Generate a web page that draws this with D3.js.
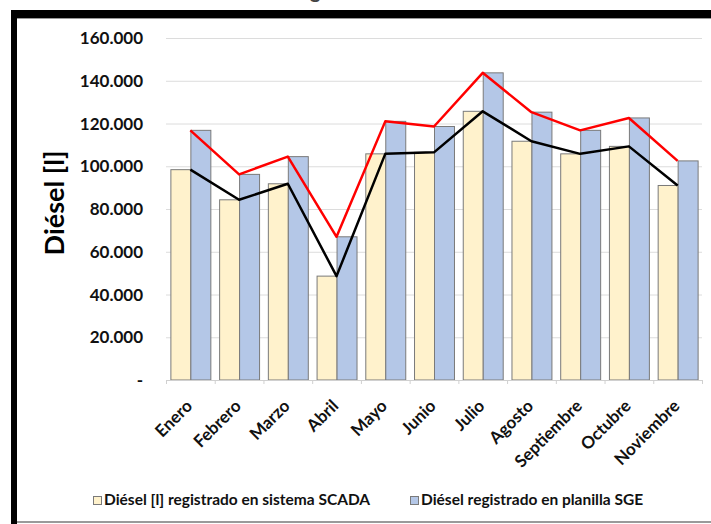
<!DOCTYPE html>
<html>
<head>
<meta charset="utf-8">
<script src="https://cdn.jsdelivr.net/npm/d3@7"></script>
<style>
  body { margin: 0; background: #fff; }
  svg { display: block; font-family: Lato, "Open Sans", sans-serif; }
</style>
</head>
<body>
<div id="chart"></div>
<script>
//  data
var MONTHS = ["Enero", "Febrero", "Marzo", "Abril", "Mayo", "Junio", "Julio", "Agosto", "Septiembre", "Octubre", "Noviembre"];
var SCADA = [98400, 84300, 91800, 48600, 105800, 106500, 125700, 111700, 105800, 109300, 91000];
var SGE = [116800, 96200, 104500, 67000, 121000, 118600, 143700, 125300, 116800, 122600, 102500];
var Y_TICKS = [0, 20000, 40000, 60000, 80000, 100000, 120000, 140000, 160000];
var SERIES = ["Diésel [l] registrado en sistema SCADA", "Diésel registrado en planilla SGE"];

//  draw chart
function draw_chart() {
  const w = 711
  const h = 524
  const margin = ({top: 38, right: 9, bottom: 144, left: 166})

  const svg = d3.select("#chart").append("svg").attr("width", w).attr("height", h)

  // frame
  svg.append("rect").attr("x", 11).attr("y", 10).attr("width", w - 11).attr("height", 8).style("fill", "#000")
  svg.append("rect").attr("x", 11).attr("y", 10).attr("width", 6).attr("height", h - 10).style("fill", "#000")
  svg.append("line").attr("x1", 17).attr("x2", w).attr("y1", 18.5).attr("y2", 18.5).style("stroke", "#999")
  svg.append("line").attr("x1", 17).attr("x2", w).attr("y1", 522).attr("y2", 522).style("stroke", "#9a9a9a").style("stroke-width", 2)

  // cut title fragment
  svg.append("text").attr("x", 310).attr("y", -2).style("font-size", "20px").style("font-weight", "bold").style("fill", "#444").text("g")

  const x0 = d3.scaleBand().domain(MONTHS).range([margin.left, w - margin.right]).paddingInner(0.18).paddingOuter(0.09)
  const x1 = d3.scaleBand().domain([0, 1]).range([0, x0.bandwidth()])
  const y = d3.scaleLinear().domain([0, 160000]).range([h - margin.bottom, margin.top])
  const color = ["#FFF2CC", "#B4C7E7"]
  const fmt = v => v == 0 ? "-" : d3.format(",")(v).replace(/,/g, ".")

  // gridlines
  svg.append("g").selectAll("line").data(Y_TICKS.filter(d => d > 0)).enter()
    .append("line")
    .attr("x1", margin.left).attr("x2", w - margin.right)
    .attr("y1", d => y(d) + 0.5).attr("y2", d => y(d) + 0.5)
    .style("stroke", "#dcdcdc").style("stroke-width", 1)

  // y labels
  svg.append("g").selectAll("text").data(Y_TICKS).enter()
    .append("text")
    .attr("x", 143)
    .attr("y", d => y(d) + 6)
    .attr("text-anchor", "end")
    .style("font-size", "17px").style("font-weight", "bold").style("fill", "#111")
    .text(fmt)

  svg.append("text")
    .attr("transform", `translate(64,203) rotate(-90)`)
    .attr("text-anchor", "middle")
    .style("font-size", "27px").style("font-weight", "bold").style("fill", "#000")
    .text("Diésel [l]")

  // bars
  const groups = svg.append("g").selectAll("g").data(MONTHS).enter()
    .append("g")
    .attr("transform", d => `translate(${x0(d)},0)`)

  groups.selectAll("rect").data((d, i) => [SCADA[i], SGE[i]]).enter()
    .append("rect")
    .attr("x", (d, j) => x1(j) + 0.5)
    .attr("y", d => y(d))
    .attr("width", x1.bandwidth())
    .attr("height", d => y(0) - y(d))
    .style("fill", (d, j) => color[j])
    .style("stroke", "#7a7a7a").style("stroke-width", 1)

  // x axis
  svg.append("line").attr("x1", margin.left).attr("x2", w - margin.right)
    .attr("y1", y(0) + 0.5).attr("y2", y(0) + 0.5).style("stroke", "#d0d0d0")
  svg.append("g").selectAll("line").data(d3.range(MONTHS.length + 1)).enter()
    .append("line")
    .attr("x1", i => margin.left + i * x0.step() + 0.5)
    .attr("x2", i => margin.left + i * x0.step() + 0.5)
    .attr("y1", y(0)).attr("y2", y(0) + 4)
    .style("stroke", "#d0d0d0")

  svg.append("g").selectAll("text").data(MONTHS).enter()
    .append("text")
    .attr("transform", d => `translate(${x0(d) + x0.bandwidth() / 2 + 3},${y(0) + 27}) rotate(-45)`)
    .attr("text-anchor", "end")
    .style("font-size", "17px").style("font-weight", "bold").style("fill", "#111")
    .text(d => d)

  // lines
  const cx = d => x0(d) + x0.bandwidth() / 2
  const line = vals => d3.line().x(d => cx(d)).y((d, i) => y(vals[i]))(MONTHS)
  svg.append("path").attr("d", line(SGE)).style("fill", "none").style("stroke", "#ff0000").style("stroke-width", 2.5).style("stroke-linejoin", "round")
  svg.append("path").attr("d", line(SCADA)).style("fill", "none").style("stroke", "#000").style("stroke-width", 2.5).style("stroke-linejoin", "round")

  // legend
  const lx = [93, 410]
  const leg = svg.append("g").selectAll("g").data(SERIES).enter()
    .append("g")
    .attr("transform", (d, i) => `translate(${lx[i]},496)`)
  leg.append("rect").attr("x", 0.5).attr("y", 0.5).attr("width", 8).attr("height", 8)
    .style("fill", (d, i) => color[i]).style("stroke", "#7a7a7a")
  leg.append("text").attr("x", 11).attr("y", 8.5)
    .style("font-size", "15.5px").style("font-weight", "bold").style("fill", "#111")
    .text(d => d)

  return svg.node()
}

draw_chart();
</script>
</body>
</html>
